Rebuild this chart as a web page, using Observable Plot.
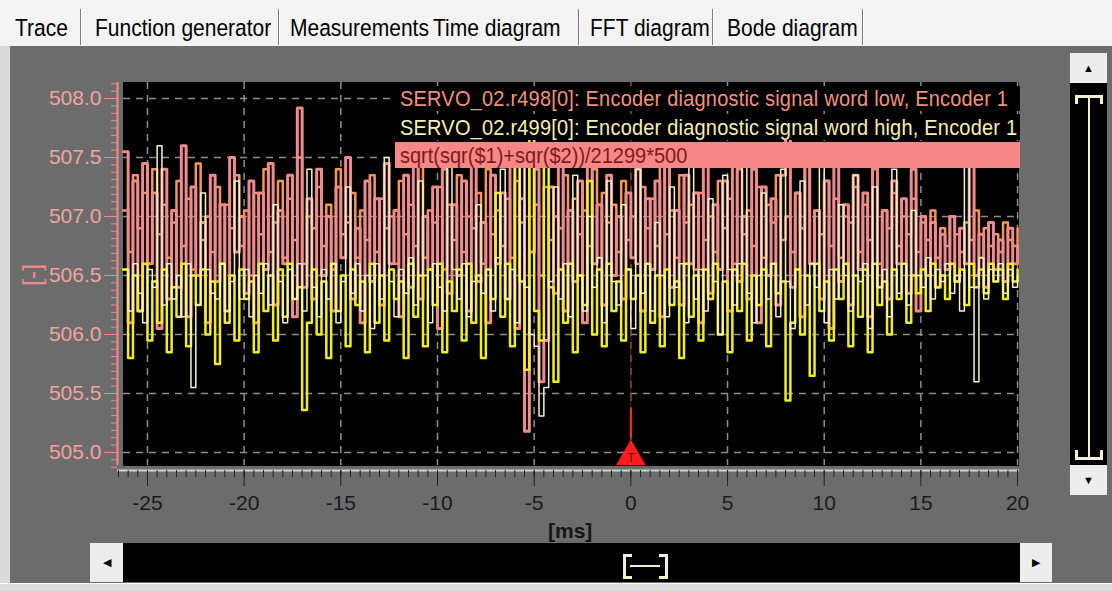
<!DOCTYPE html>
<html><head><meta charset="utf-8">
<script src="https://cdn.jsdelivr.net/npm/d3@7"></script>
<script src="https://cdn.jsdelivr.net/npm/@observablehq/plot@0.6"></script>
<style>
html,body{margin:0;padding:0;}
body{width:1112px;height:591px;position:relative;overflow:hidden;background:#d9d9d9;font-family:"Liberation Sans",Arial,sans-serif;}
.abs{position:absolute;}
#tabs{left:0;top:0;width:1112px;height:46px;background:#f3f3f3;}
.tab{position:absolute;top:14px;font-size:21px;color:#000;white-space:nowrap;transform:scaleY(1.15);transform-origin:left top;}
.sep{position:absolute;top:9px;width:1px;height:36px;background:#7a7a7a;border-right:1px solid #fff;}
#panel{left:10px;top:46px;width:1102px;height:537px;background:#6c6c6c;}
#blackbg{left:123px;top:82px;width:896px;height:384px;background:#000;}
#chart{left:0;top:46px;}
.btn{position:absolute;background:#ededed;color:#000;font-size:11px;display:flex;align-items:center;justify-content:center;}
.bar{position:absolute;background:#000;}
.cream{position:absolute;background:#f3f0d2;}
.leg{position:absolute;font-size:20px;white-space:nowrap;letter-spacing:0.2px;}
.legtxt{display:inline-block;transform:scaleY(1.12);transform-origin:left center;}
</style></head>
<body>
<div id="tabs" class="abs">
  <div class="tab" style="left:15px">Trace</div>
  <div class="sep" style="left:80px"></div>
  <div class="tab" style="left:95px">Function generator</div>
  <div class="sep" style="left:278px"></div>
  <div class="tab" style="left:290px">Measurements</div>
  <div class="tab" style="left:433px">Time diagram</div>
  <div class="sep" style="left:578px"></div>
  <div class="tab" style="left:590px">FFT diagram</div>
  <div class="sep" style="left:712px"></div>
  <div class="tab" style="left:727px">Bode diagram</div>
  <div class="sep" style="left:862px"></div>
</div>
<div id="panel" class="abs"></div>
<div id="blackbg" class="abs"></div>
<div id="chart" class="abs"></div>

<div class="leg" style="left:395px;top:86px;width:620px;height:25px;line-height:25px;padding-left:5px;background:#000;color:#f2927e"><span class="legtxt">SERVO_02.r498[0]: Encoder diagnostic signal word low, Encoder 1</span></div>
<div class="leg" style="left:395px;top:114px;width:620px;height:26px;line-height:26px;padding-left:5px;background:#000;color:#f4f0b4"><span class="legtxt">SERVO_02.r499[0]: Encoder diagnostic signal word high, Encoder 1</span></div>
<div class="leg" style="left:395px;top:142px;width:620px;height:26px;line-height:26px;padding-left:5px;background:#f78787;color:#7a1c1c;letter-spacing:0"><span class="legtxt">sqrt(sqr($1)+sqr($2))/21299*500</span></div>

<div class="abs" style="left:12px;top:262px;width:40px;height:26px;color:#f28a8a;font-size:25px;transform:rotate(-90deg);text-align:center;line-height:26px">[-]</div>
<div class="abs" style="left:548px;top:519px;font-size:21px;font-weight:bold;color:#161616">[ms]</div>

<!-- right scrollbar -->
<div class="btn" style="left:1070px;top:53px;width:37px;height:30px">▲</div>
<div class="bar" style="left:1070px;top:83px;width:37px;height:382px"></div>
<div class="btn" style="left:1070px;top:465px;width:37px;height:30px">▼</div>
<div class="cream" style="left:1075px;top:95px;width:28px;height:3px"></div>
<div class="cream" style="left:1075px;top:95px;width:3px;height:9px"></div>
<div class="cream" style="left:1100px;top:95px;width:3px;height:9px"></div>
<div class="cream" style="left:1088px;top:97px;width:2px;height:361px"></div>
<div class="cream" style="left:1075px;top:457px;width:28px;height:3px"></div>
<div class="cream" style="left:1075px;top:450px;width:3px;height:9px"></div>
<div class="cream" style="left:1100px;top:450px;width:3px;height:9px"></div>

<!-- bottom scrollbar -->
<div class="btn" style="left:90px;top:543px;width:33px;height:39px">◀</div>
<div class="bar" style="left:123px;top:543px;width:897px;height:39px"></div>
<div class="btn" style="left:1020px;top:543px;width:32px;height:39px">▶</div>
<div class="cream" style="left:623px;top:554px;width:3px;height:25px"></div>
<div class="cream" style="left:623px;top:554px;width:9px;height:3px"></div>
<div class="cream" style="left:623px;top:576px;width:9px;height:3px"></div>
<div class="cream" style="left:665px;top:554px;width:3px;height:25px"></div>
<div class="cream" style="left:659px;top:554px;width:9px;height:3px"></div>
<div class="cream" style="left:659px;top:576px;width:9px;height:3px"></div>
<div class="cream" style="left:630px;top:565px;width:30px;height:2px"></div>
<div class="abs" style="left:0;top:583px;width:1112px;height:8px;background:#dcdcdc;border-top:1px solid #fff"></div>

<script>
// sampling grid of the trace (ms)
const sampleStart = -26.25;
const sampleStep = 0.25;

// formula trace sqrt(sqr($1)+sqr($2))/21299*500 (pink)
const formulaValues = [
507.55,506.10,507.30,506.20,507.45,506.60,507.20,506.05,507.40,506.30,
507.05,506.40,507.60,506.15,507.25,506.50,506.95,506.10,507.35,506.45,
507.10,506.20,507.50,506.70,507.00,506.35,507.30,506.10,507.20,506.55,
507.45,506.25,507.05,506.60,507.35,506.15,507.92,506.40,507.15,506.30,
507.40,506.50,507.00,506.20,507.25,506.65,507.50,506.30,506.90,506.10,
507.30,506.45,507.15,506.25,507.45,506.60,507.05,506.15,507.35,506.40,
507.55,506.30,507.00,506.55,507.25,506.05,507.40,506.35,507.10,506.50,
507.30,506.20,507.50,506.45,506.95,506.10,507.35,506.60,507.20,506.30,
507.45,506.05,507.15,505.18,506.70,507.40,505.60,505.95,507.25,506.35,
507.55,506.20,507.05,506.45,507.30,506.10,507.45,506.60,507.10,506.25,
507.35,506.50,507.00,506.30,507.20,506.65,507.40,506.20,507.15,506.55,
507.30,506.15,507.50,506.40,507.05,506.25,507.35,506.60,507.20,506.10,
507.45,506.35,507.10,506.55,507.30,506.20,507.55,506.45,507.00,506.30,
507.40,506.10,507.25,506.50,507.15,506.25,507.35,507.72,506.40,507.20,
506.15,507.45,506.60,507.05,506.30,507.30,506.05,507.50,506.45,507.10,
506.25,507.35,506.55,507.20,506.15,507.45,506.40,507.05,506.30,507.30,
506.60,507.15,506.35,507.40,506.20,507.00,506.50,506.95,506.40,506.85,
506.55,507.00,506.45,506.90,506.60,507.55,506.50,506.85,506.40,506.95,
506.55,506.80,506.45,506.90,506.60,506.75];

// r498 word low (orange-salmon)
const r498Values = [
507.05,506.70,507.35,506.90,507.20,506.60,507.40,506.85,507.10,506.65,
506.95,507.30,506.75,507.15,506.55,507.45,506.80,507.00,506.70,507.25,
506.60,507.10,506.90,507.35,506.75,507.05,506.50,507.20,506.85,507.40,
506.70,506.95,507.30,506.65,507.15,506.80,507.50,506.60,507.00,506.90,
507.25,506.75,507.10,506.55,507.40,506.85,506.95,507.20,506.65,507.05,
506.80,507.35,506.70,507.15,506.90,507.00,506.60,507.30,506.85,507.10,
506.75,507.45,506.65,507.05,506.95,507.25,506.55,507.10,506.80,507.35,
506.70,507.00,506.90,507.20,506.60,507.40,506.85,507.05,506.75,507.15,
506.65,507.30,506.95,507.55,506.70,507.10,506.50,507.25,506.80,507.00,
506.90,507.35,506.60,507.15,506.85,507.05,506.75,507.40,506.65,507.20,
506.95,507.10,506.70,507.30,506.80,507.00,506.60,507.25,506.90,507.15,
506.75,507.45,506.85,507.05,506.65,507.35,506.95,507.10,506.55,507.20,
506.80,507.00,506.70,507.30,506.90,507.15,506.60,507.40,506.85,507.05,
506.75,507.25,506.65,507.10,506.95,507.35,506.80,507.00,506.70,507.20,
506.90,507.45,506.60,507.05,506.85,507.30,506.75,507.15,506.65,507.00,
506.95,507.25,506.70,507.10,506.80,507.40,506.60,507.05,506.90,507.20,
506.75,507.00,506.85,507.15,506.70,506.95,506.80,507.05,506.65,506.90,
506.75,507.00,506.85,506.70,506.95,506.80,507.05,506.65,506.90,506.75,
506.85,506.70,506.95,506.80,506.75,506.90];

// r499 word high (pale cream)
const r499Values = [
506.55,506.20,506.60,506.35,506.10,506.55,506.40,507.60,506.25,506.60,
506.30,506.50,506.15,506.60,505.55,506.25,507.20,506.55,506.35,506.30,
506.60,506.20,506.45,507.30,506.30,506.55,506.15,506.50,506.35,506.60,
506.25,507.10,506.45,506.10,506.55,506.30,506.60,506.20,507.40,506.40,
506.15,506.55,506.30,506.60,506.10,506.45,507.25,506.35,506.60,506.20,
506.50,506.05,506.60,506.30,507.50,506.45,506.15,506.55,506.35,506.65,
506.25,507.30,506.50,506.10,506.60,506.40,506.20,507.45,506.55,506.30,
506.60,506.15,506.45,507.10,506.35,506.55,506.20,506.65,507.40,506.30,
506.55,506.10,507.55,506.40,506.00,505.90,505.31,505.55,506.45,507.25,
506.30,506.60,506.15,507.35,506.50,506.20,507.00,506.40,506.65,506.10,
507.30,506.45,506.25,507.10,506.55,506.05,507.40,506.35,506.60,506.20,
506.95,506.50,506.15,507.25,506.40,506.60,506.10,507.45,506.30,506.55,
506.20,507.15,506.45,506.00,507.35,506.55,506.25,506.60,507.50,506.35,
506.10,506.50,507.20,506.30,506.60,506.15,507.40,506.45,506.05,506.55,
507.30,506.25,506.60,506.40,507.45,506.10,506.55,506.30,507.10,506.50,
506.20,507.35,506.45,506.60,506.05,507.25,506.40,506.55,506.15,507.40,
506.35,506.60,506.25,507.05,506.50,506.40,506.65,506.30,506.55,506.45,
506.60,506.35,506.50,506.20,507.55,506.40,505.60,506.65,506.30,506.55,
506.45,506.60,506.35,506.55,506.40,506.50];

// bright yellow trace
const yellowValues = [
506.55,505.80,506.50,506.20,506.60,505.95,506.45,506.10,506.55,505.85,
506.40,506.15,506.60,505.90,506.50,506.25,506.55,506.00,506.45,505.75,
506.60,506.10,506.50,505.95,506.55,506.30,506.45,505.85,506.60,506.20,
506.50,505.95,506.55,506.15,506.60,506.30,506.40,505.36,506.10,506.55,
506.00,506.45,505.80,506.60,506.20,506.50,505.90,506.55,506.25,506.45,
505.85,506.60,506.10,506.50,505.95,506.55,506.30,506.45,505.80,506.60,
506.15,506.50,505.90,506.55,506.25,506.60,505.85,506.45,506.20,506.55,
505.95,506.60,506.10,506.50,505.80,506.55,506.30,507.20,506.15,506.60,
505.90,507.45,506.45,505.70,507.70,506.20,505.95,507.60,506.40,505.60,
506.55,506.10,506.60,505.85,506.50,506.25,507.30,506.00,506.55,505.90,
506.60,506.20,506.45,505.95,506.55,506.30,506.50,505.85,506.60,506.10,
506.50,505.90,506.55,506.25,506.45,505.80,506.60,506.15,506.50,505.95,
506.55,506.30,506.60,506.00,506.45,505.85,506.55,506.20,506.60,505.95,
506.50,506.25,506.55,505.90,506.60,506.35,506.45,505.44,506.10,506.55,
506.00,506.50,505.65,506.60,506.20,506.45,505.95,506.55,506.30,506.60,
505.90,506.50,506.15,506.55,505.85,506.60,506.25,506.45,506.00,506.55,
506.30,506.60,506.10,506.50,506.35,506.55,506.20,506.60,506.40,506.50,
506.30,506.60,506.45,506.55,506.25,506.60,506.40,506.55,506.35,506.60,
506.45,506.55,506.30,506.60,506.45,506.55];

const xTicks = [-25, -20, -15, -10, -5, 0, 5, 10, 15, 20];
const yTicks = [505.0, 505.5, 506.0, 506.5, 507.0, 507.5, 508.0];
const triggerTime = [0];
const triggerFlash = [505.12, 505.37];

const xDomain = [-26.55, 20.10];
const yDomain = [504.847, 508.136];

const toRows = (vals) => vals.map((v, i) => ({t: sampleStart + i * sampleStep, v}));

const xMinor = d3.range(-26.5, 20.01, 0.5);
const yMinor = d3.range(504.875, 508.13, 0.0625);

const chart = Plot.plot({
  width: 1060, height: 500,
  marginLeft: 117, marginRight: 41, marginTop: 36, marginBottom: 76,
  x: {domain: xDomain},
  y: {domain: yDomain},
  style: {background: "transparent", fontFamily: "'Liberation Sans', Arial, sans-serif", fontSize: "21px", overflow: "visible"},
  marks: [
    Plot.ruleY(yTicks, {stroke: "#8e8e8e", strokeWidth: 1.5, strokeDasharray: "7,6", insetLeft: 6}),
    Plot.ruleX(xTicks, {stroke: "#8e8e8e", strokeWidth: 1.5, strokeDasharray: "7,6", insetBottom: 5}),
    Plot.ruleX(triggerTime, {x: d => d, stroke: "#7a1010", strokeWidth: 1, insetBottom: 5}),
    Plot.line(toRows(r498Values), {x: "t", y: "v", curve: "step-after", stroke: "#f6965a", strokeWidth: 2.5, clip: true}),
    Plot.line(toRows(formulaValues), {x: "t", y: "v", curve: "step-after", stroke: "#f08a8c", strokeWidth: 3, clip: true}),
    Plot.line(toRows(yellowValues), {x: "t", y: "v", curve: "step-after", stroke: "#eeee22", strokeWidth: 2.5, clip: true}),
    Plot.line(toRows(r499Values), {x: "t", y: "v", curve: "step-after", stroke: "#f6f2c4", strokeWidth: 1.5, clip: true}),
    Plot.ruleX(triggerTime, {x: d => d, y1: triggerFlash[0], y2: triggerFlash[1], stroke: "#ff2a2a", strokeWidth: 2}),
    Plot.dot(triggerTime, {x: d => d, frameAnchor: "bottom", dy: -14, symbol: "triangle", r: 11, fill: "#ff1c1c", stroke: "none"}),
    Plot.text(triggerTime, {x: d => d, frameAnchor: "bottom", dy: -9, text: () => "T", fill: "#8a0000", fontSize: 13}),
    Plot.ruleX([xDomain[0]], {stroke: "#f08a8a", strokeWidth: 2, insetBottom: 5}),
    Plot.ruleY([yDomain[0]], {stroke: "#d2d2d2", strokeWidth: 2}),
    Plot.axisY({ticks: yMinor, tickSize: 6, tickFormat: () => "", stroke: "#f08a8a", label: null}),
    Plot.axisY({ticks: yTicks, tickSize: 13, tickPadding: 3, tickFormat: d3.format(".1f"), stroke: "#f08a8a", fill: "#f4a4a0", fontSize: 21, label: null}),
    Plot.axisX({ticks: xMinor, tickSize: 7, tickFormat: () => "", stroke: "#202020", label: null}),
    Plot.axisX({ticks: xTicks, tickSize: 16, tickPadding: 9, tickFormat: d => String(d), stroke: "#202020", fill: "#1a1a1a", fontSize: 21, label: null})
  ]
});
document.getElementById("chart").appendChild(chart);
</script>
</body></html>
